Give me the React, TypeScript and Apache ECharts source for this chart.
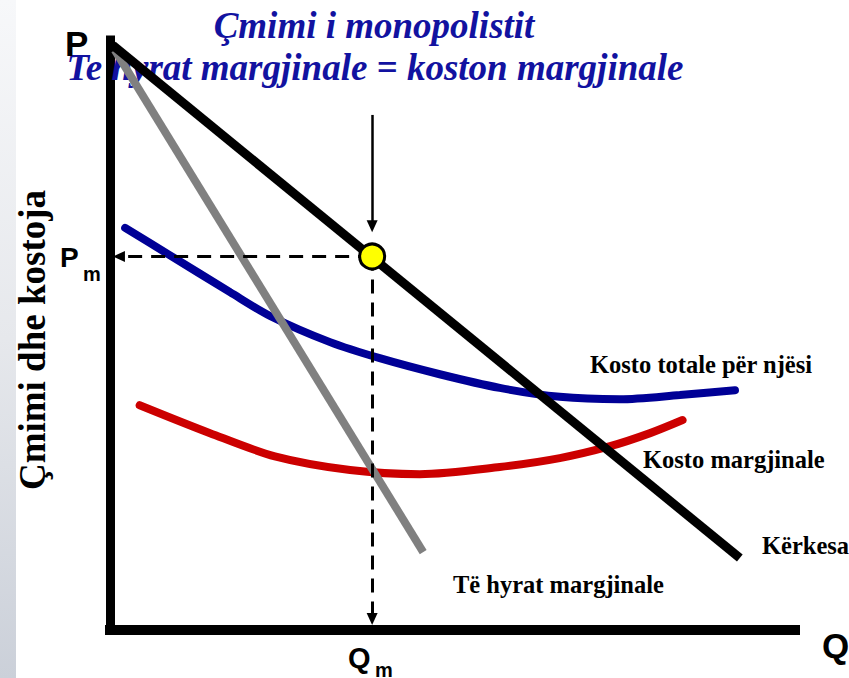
import React, { useEffect, useRef } from "react";
import * as echarts from "echarts";

// Curve points: [quantity, price]
const demandCurve: number[][] = [[0.4, 98.3], [91.3, 12.1]];
const marginalRevenue: number[][] = [[0.7, 97.5], [45.4, 13.1]];
const averageTotalCost: number[][] = [
  [2.2, 67.6], [8.7, 63.0], [17.4, 56.8], [23.2, 52.8], [31.9, 48.4], [39.1, 45.7],
  [47.8, 43.0], [56.5, 40.7], [65.2, 39.2], [73.9, 38.8], [82.6, 39.5], [90.6, 40.3],
];
const marginalCost: number[][] = [
  [4.3, 37.8], [14.5, 33.1], [23.9, 29.2], [34.8, 26.9], [44.9, 26.2], [56.5, 27.4],
  [65.2, 28.9], [72.5, 30.9], [78.3, 33.1], [83.0, 35.3],
];
const equilibrium: number[] = [38.0, 62.8]; // [Qm, Pm]
const pointerArrow: number[] = [86.6, 67.9]; // from, to (price level)
const dashEnds: number[] = [1.3, 1.85]; // horizontal end (Q), vertical end (P)

const titleLines: string[] = ["Çmimi i monopolistit", "Te hyrat margjinale = koston margjinale"];
const yAxisTitle = "Çmimi dhe kostoja";
const curveLabels: string[] = ["Kosto totale për njësi", "Kosto margjinale", "Kërkesa", "Të hyrat margjinale"];

const SERIF = "'Liberation Serif', 'Times New Roman', serif";
const SANS = "'Liberation Sans', Arial, sans-serif";

export default function App() {
  const ref = useRef<HTMLDivElement>(null);
  useEffect(() => {
    if (!ref.current) return;
    const chart = echarts.init(ref.current, null, { renderer: "svg" });
    const [qm, pm] = equilibrium;
    const axisCommon = {
      type: "value" as const,
      min: 0,
      axisTick: { show: false },
      axisLabel: { show: false },
      splitLine: { show: false },
    };
    const serifLabel = (text: string, x: number, y: number) => ({
      type: "text",
      x,
      y,
      z: 1,
      style: {
        text,
        font: `bold 24.5px ${SERIF}`,
        fill: "#000",
        textAlign: "left",
        textVerticalAlign: "middle",
      },
    });
    const sansLabel = (text: string, x: number, y: number, size: number) => ({
      type: "text",
      x,
      y,
      z: 1,
      style: {
        text,
        font: `bold ${size}px ${SANS}`,
        fill: "#000",
        textAlign: "left",
        textVerticalAlign: "middle",
      },
    });
    chart.setOption({
      animation: false,
      backgroundColor: "#ffffff",
      grid: { left: 110, right: 54, top: 40, bottom: 48 },
      xAxis: {
        ...axisCommon,
        max: 99.3,
        axisLine: { show: true, onZero: false, lineStyle: { color: "#000", width: 10, cap: "square" } },
      },
      yAxis: {
        ...axisCommon,
        max: 99.2,
        axisLine: { show: true, onZero: false, lineStyle: { color: "#000", width: 9, cap: "square" } },
      },
      graphic: [
        {
          type: "rect",
          shape: { x: 0, y: 0, width: 16, height: 678 },
          z: -10,
          silent: true,
          style: {
            fill: new echarts.graphic.LinearGradient(0, 0, 0, 1, [
              { offset: 0, color: "#f7f8fa" },
              { offset: 0.5, color: "#e6e8ec" },
              { offset: 1, color: "#cbd0d9" },
            ]),
          },
        },
        {
          type: "text",
          x: 374,
          y: 25,
          z: 1,
          style: {
            text: titleLines[0],
            font: `italic bold 37px ${SERIF}`,
            fill: "#1212a0",
            textAlign: "center",
            textVerticalAlign: "middle",
          },
        },
        {
          type: "text",
          x: 375,
          y: 67,
          z: 1,
          style: {
            text: titleLines[1],
            font: `italic bold 37px ${SERIF}`,
            fill: "#1212a0",
            textAlign: "center",
            textVerticalAlign: "middle",
          },
        },
        {
          type: "text",
          x: 32,
          y: 340,
          rotation: Math.PI / 2,
          z: 1,
          style: {
            text: yAxisTitle,
            font: `bold 37px ${SERIF}`,
            fill: "#000",
            textAlign: "center",
            textVerticalAlign: "middle",
          },
        },
        serifLabel(curveLabels[0], 590, 364),
        serifLabel(curveLabels[1], 643, 459),
        serifLabel(curveLabels[2], 762, 545),
        serifLabel(curveLabels[3], 453, 584),
        sansLabel("P", 65, 43, 35),
        sansLabel("P", 60, 257, 28),
        sansLabel("m", 83, 274, 20),
        sansLabel("Q", 348, 658, 29),
        sansLabel("m", 375, 670, 20),
        sansLabel("Q", 822, 645, 35),
      ],
      series: [
        {
          type: "line",
          data: marginalCost,
          smooth: 0.3,
          symbol: "none",
          silent: true,
          z: 3,
          lineStyle: { color: "#cc0000", width: 8, cap: "round" },
        },
        {
          type: "line",
          data: averageTotalCost,
          smooth: 0.3,
          symbol: "none",
          silent: true,
          z: 3,
          lineStyle: { color: "#000096", width: 8, cap: "round" },
        },
        {
          type: "line",
          data: marginalRevenue,
          symbol: "none",
          silent: true,
          z: 4,
          lineStyle: { color: "#808080", width: 8 },
        },
        {
          type: "line",
          data: demandCurve,
          symbol: "none",
          silent: true,
          z: 5,
          lineStyle: { color: "#000", width: 9 },
        },
        {
          type: "line",
          data: [],
          z: 6,
          silent: true,
          markLine: {
            silent: true,
            symbol: ["none", "triangle"],
            symbolSize: [11, 12],
            label: { show: false },
            emphasis: { disabled: true },
            data: [
              [
                { coord: [qm, pm], lineStyle: { color: "#000", width: 3, type: [14, 9] } },
                { coord: [dashEnds[0], pm] },
              ],
              [
                { coord: [qm, pm], lineStyle: { color: "#000", width: 3, type: [14, 9] } },
                { coord: [qm, dashEnds[1]] },
              ],
              [
                { coord: [qm, pointerArrow[0]], lineStyle: { color: "#000", width: 2.5, type: "solid" } },
                { coord: [qm, pointerArrow[1]] },
              ],
            ],
          },
        },
        {
          type: "scatter",
          data: [equilibrium],
          symbol: "circle",
          symbolSize: 25,
          silent: true,
          z: 10,
          itemStyle: { color: "#ffff00", borderColor: "#000", borderWidth: 3, opacity: 1 },
        },
      ],
    });
    return () => chart.dispose();
  }, []);
  return (
    <div
      ref={ref}
      style={{ position: "fixed", left: 0, top: 0, width: 849, height: 678 }}
    />
  );
}
